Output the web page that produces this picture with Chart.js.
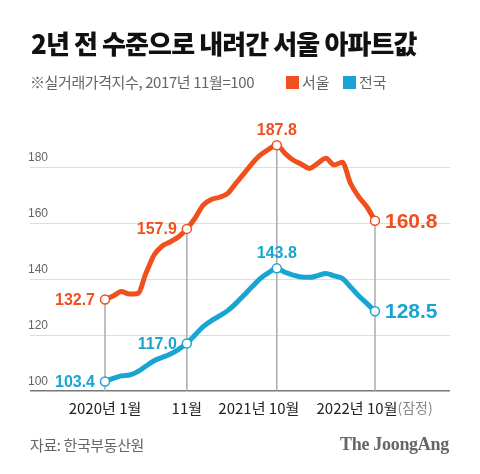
<!DOCTYPE html>
<html><head><meta charset="utf-8">
<script src="https://cdn.jsdelivr.net/npm/chart.js@4.4.0/dist/chart.umd.min.js"></script>
<style>
body{margin:0;background:#fff;}
#wrap{position:relative;width:480px;height:474px;overflow:hidden;background:#fff;}
canvas{position:absolute;left:0;top:0;}
.t{position:absolute;white-space:nowrap;font-family:"Noto Sans CJK KR";line-height:1;}
.sq{position:absolute;width:13px;height:13px;}
</style></head><body>
<div id="wrap">
<canvas id="c" width="480" height="474"></canvas>
<div class="t" style="left:31px;top:30px;font-size:26px;font-weight:900;color:#111;letter-spacing:-0.9px;">2년 전 수준으로 내려간 서울 아파트값</div>
<div class="t" style="left:30px;top:74px;font-size:15px;color:#666;letter-spacing:-0.4px;">※실거래가격지수, 2017년 11월=100</div>
<div class="sq" style="left:286px;top:76px;background:#F0501E;"></div>
<div class="t" style="left:302px;top:74px;font-size:15px;color:#666;">서울</div>
<div class="sq" style="left:343px;top:76px;background:#19A5D2;"></div>
<div class="t" style="left:359px;top:74px;font-size:15px;color:#666;">전국</div>
<div class="t" style="left:30px;top:437px;font-size:15px;color:#666;letter-spacing:-0.4px;">자료: 한국부동산원</div>
<div class="t" style="left:340px;top:435px;font-size:18px;font-weight:700;color:#666;font-family:'Liberation Serif';letter-spacing:-0.3px;">The JoongAng</div>
</div>
<script>
const months = ['2020-01','2020-02','2020-03','2020-04','2020-05','2020-06','2020-07','2020-08','2020-09','2020-10','2020-11','2020-12',
 '2021-01','2021-02','2021-03','2021-04','2021-05','2021-06','2021-07','2021-08','2021-09','2021-10','2021-11','2021-12',
 '2022-01','2022-02','2022-03','2022-04','2022-05','2022-06','2022-07','2022-08','2022-09','2022-10'];
const seoul = [132.7,133.9,135.5,134.6,134.8,142.0,148.6,151.8,153.3,155.1,157.9,161.7,
 166.4,168.4,169.2,170.6,174.2,177.7,181.3,184.3,186.3,187.8,184.9,182.5,
 181.0,179.5,181.3,183.1,180.7,181.7,174.2,169.4,165.8,160.8];
const nation = [103.4,104.5,105.4,105.7,106.9,108.9,110.8,112.0,113.2,114.9,117.0,120.0,
 123.0,125.1,126.8,128.7,131.3,134.3,137.3,140.2,142.3,143.8,142.4,141.4,
 140.7,140.6,141.2,142.0,141.1,140.2,137.2,134.0,131.3,128.5];
const highlight = ['2020-01','2020-11','2021-10','2022-10'];
const yTicks = [100,120,140,160,180];
const xTickMonths = ['2020-01','2020-11','2021-10','2022-10'];
const xTickLabels = ['2020년 1월','11월','2021년 10월','2022년 10월'];
const xTickNote = ['','','','(잠정)'];

const ORANGE = '#F0501E', BLUE = '#19A5D2';
const hlIdx = highlight.map(m => months.indexOf(m));

function series(vals){ return vals.map((v,i)=>({x:i,y:v})); }
function ds(label, vals, color){
  return {label, data: series(vals), borderColor: color, borderWidth: 5,
    cubicInterpolationMode:'monotone', borderCapStyle:'round', borderJoinStyle:'round',
    pointRadius: c => hlIdx.includes(c.dataIndex) ? 4.5 : 0,
    pointHoverRadius: 0, pointBackgroundColor:'#fff', pointBorderColor: color, pointBorderWidth: 1.5, fill:false};
}

const refLines = {
  id:'refLines',
  beforeDatasetsDraw(chart){
    const {ctx, chartArea, scales:{x,y}} = chart;
    ctx.save(); ctx.strokeStyle='#aaa'; ctx.lineWidth=1.5;
    hlIdx.forEach(i=>{
      const px = x.getPixelForValue(i), py = y.getPixelForValue(seoul[i]);
      ctx.beginPath(); ctx.moveTo(px,py); ctx.lineTo(px,chartArea.bottom); ctx.stroke();
    });
    ctx.restore();
  }
};
// label placement per highlighted point: [dx, dy, align, size]
const place = [[-10,1,'right',16],[-10,1,'right',16],[0,-15,'center',16],[10,1,'left',21]];
const valueLabels = {
  id:'valueLabels',
  afterDatasetsDraw(chart){
    const {ctx} = chart;
    ctx.save(); ctx.textBaseline='middle';
    chart.data.datasets.forEach((d,di)=>{
      const meta = chart.getDatasetMeta(di);
      hlIdx.forEach((i,k)=>{
        const p = meta.data[i]; const [dx,dy,al,sz] = place[k];
        ctx.fillStyle = d.borderColor; ctx.textAlign = al;
        ctx.font = 'bold '+sz+'px "Liberation Sans"';
        ctx.fillText(d.data[i].y.toFixed(1), p.x+dx, p.y+dy);
      });
    });
    ctx.restore();
  }
};
const xOffsets = [0,0,-18,-18];
const xLabels = {
  id:'xLabels',
  afterDraw(chart){
    const {ctx, scales:{x}} = chart;
    ctx.save(); ctx.textBaseline='middle';
    xTickMonths.forEach((m,k)=>{
      const px = x.getPixelForValue(months.indexOf(m)) + xOffsets[k];
      ctx.font = '15px "Noto Sans CJK KR"';
      const w1 = ctx.measureText(xTickLabels[k]).width;
      let left = px - w1/2;
      ctx.textAlign='left';
      ctx.fillStyle='#222';
      ctx.fillText(xTickLabels[k], left, 408);
      if (xTickNote[k]) { ctx.font='14px "Noto Sans CJK KR"'; ctx.fillStyle='#888'; ctx.fillText(xTickNote[k], left+w1, 408); }
    });
    ctx.restore();
  }
};

new Chart(document.getElementById('c'), {
  type:'line',
  data:{datasets:[ds('서울',seoul,ORANGE), ds('전국',nation,BLUE)]},
  options:{
    responsive:false, animation:false, devicePixelRatio:1,
    layout:{padding:{left:30,right:30,top:139,bottom:83}},
    plugins:{legend:{display:false}, tooltip:{enabled:false}},
    scales:{
      x:{type:'linear', min:-9.17, max:42.17, grid:{display:false}, border:{display:false}, ticks:{display:false},
         afterFit(s){ s.height=0; }},
      y:{min:100, max:190, border:{display:false},
         afterBuildTicks(s){ s.ticks = yTicks.map(v=>({value:v})); },
         afterFit(s){ s.width=0; },
         grid:{drawTicks:false, lineWidth: c => c.tick && c.tick.value===100 ? 1.5 : 1,
               color: c => c.tick && c.tick.value===100 ? '#777' : '#dedede'},
         ticks:{mirror:true, padding:-2, labelOffset:-9, color:'#666', font:{family:'Liberation Sans', size:12}}}
    }
  },
  plugins:[refLines, valueLabels, xLabels]
});
</script>
</body></html>
